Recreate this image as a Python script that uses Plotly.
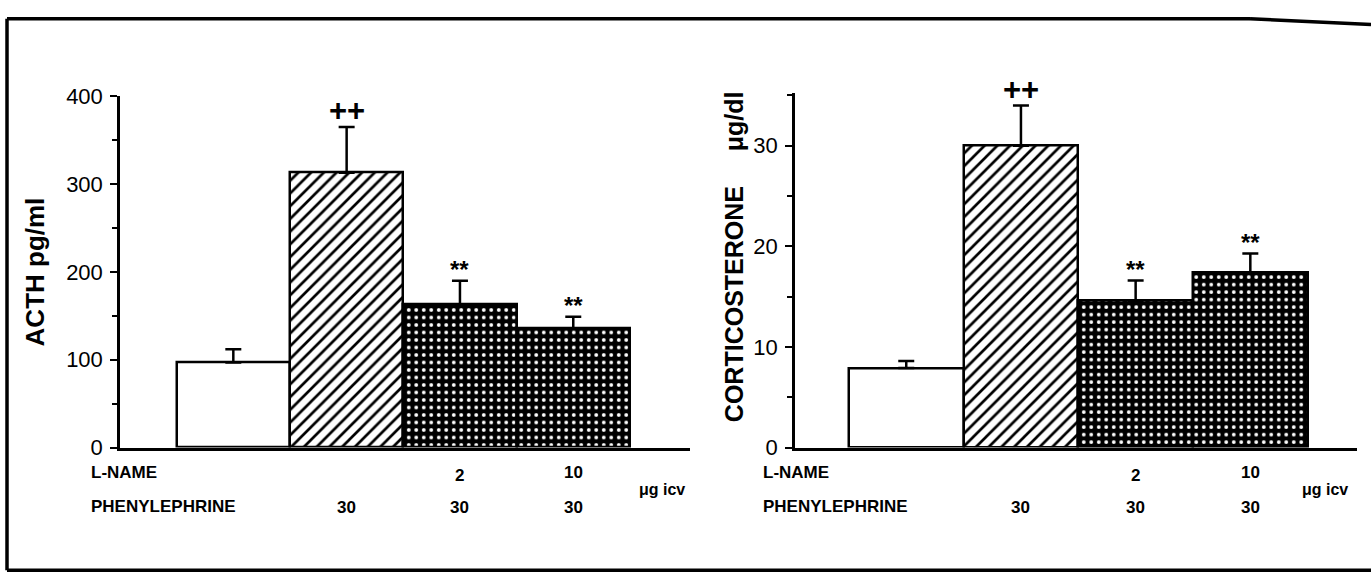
import plotly.graph_objects as go

# ---- data ----
groups = ["Control", "PE 30", "L-NAME 2 + PE 30", "L-NAME 10 + PE 30"]
acth_mean = [97, 313, 163, 136]
acth_err = [15, 52, 27, 13]
cort_mean = [7.9, 30.0, 14.6, 17.4]
cort_err = [0.7, 4.0, 2.0, 1.9]
acth_marks = ["", "++", "**", "**"]
cort_marks = ["", "++", "**", "**"]
lname_doses = ["", "", "2", "10"]
pe_doses = ["", "30", "30", "30"]
acth_ticks = [0, 100, 200, 300, 400]
cort_ticks = [0, 10, 20, 30]

W, H = 1371, 587
FONT = "Liberation Sans, Arial, Helvetica, sans-serif"
xpos = list(range(len(groups)))


def py(p):  # pixel y -> paper
    return 1 - p / H


def px(p):
    return p / W


shapes_pat = ["", "/", ".", "."]
bgc = ["white", "white", "black", "black"]
fgc = ["black", "black", "white", "white"]
sizes = [8, 9, 7.5, 7.5]
solid = [0.3, 0.3, 0.2, 0.2]

fig = go.Figure()


def add_panel(means, errs, xa, ya):
    fig.add_trace(go.Bar(
        x=xpos, y=means, width=1.0, xaxis=xa, yaxis=ya,
        marker=dict(color="white", line=dict(color="black", width=2.5),
                    pattern=dict(shape=shapes_pat, bgcolor=bgc, fgcolor=fgc,
                                 size=sizes, solidity=solid, fillmode="replace")),
        error_y=dict(type="data", symmetric=False, array=errs,
                     arrayminus=[0] * len(errs), color="black",
                     thickness=2.5, width=8),
        showlegend=False, hoverinfo="skip"))


add_panel(acth_mean, acth_err, "x", "y")
add_panel(cort_mean, cort_err, "x2", "y2")

ydom = [py(455), py(88)]
common_x = dict(showline=True, linecolor="black", linewidth=2.5, ticks="",
                showticklabels=False, showgrid=False, zeroline=False)
common_y = dict(showline=True, linecolor="black", linewidth=2.5, ticks="outside",
                ticklen=7, tickwidth=2, tickcolor="black", showgrid=False,
                zeroline=False, ticklabelstandoff=3,
                tickfont=dict(family=FONT, size=22, color="black"))

fig.update_layout(
    width=W, height=H, margin=dict(l=0, r=0, t=0, b=0),
    paper_bgcolor="white", plot_bgcolor="white", bargap=0,
    xaxis=dict(domain=[px(120), px(690)], range=[-1.0, 4.03], **common_x),
    xaxis2=dict(domain=[px(795), px(1357)], range=[-0.97, 3.93], anchor="y2", **common_x),
    yaxis=dict(domain=ydom, range=[0, 400], tickvals=acth_ticks,
               minor=dict(dtick=50, ticks="outside", ticklen=5, tickwidth=1.5, tickcolor="black"),
               **common_y),
    yaxis2=dict(domain=[py(455), py(85)], range=[0, 35.2], tickvals=cort_ticks, anchor="x2",
                minor=dict(dtick=5, ticks="outside", ticklen=5, tickwidth=1.5, tickcolor="black"),
                **common_y),
)

ann = []
# axis titles
ann.append(dict(x=px(35), y=py(272), xref="paper", yref="paper", text="<b>ACTH pg/ml</b>",
                textangle=-90, showarrow=False, xanchor="center", yanchor="middle",
                font=dict(family=FONT, size=26, color="black")))
ann.append(dict(x=px(734), y=py(255), xref="paper", yref="paper",
                text="<b>CORTICOSTERONE&nbsp;&nbsp;&nbsp;&nbsp;&nbsp;μg/dl</b>",
                textangle=-90, showarrow=False, xanchor="center", yanchor="middle",
                font=dict(family=FONT, size=25, color="black")))


# significance marks
def marks(means, errs, sig, xr, yr):
    for i, (m, e, s) in enumerate(zip(means, errs, sig)):
        if s:
            ann.append(dict(x=i, y=m + e, xref=xr, yref=yr, text="<b>" + s + "</b>", showarrow=False,
                            yanchor="middle", xanchor="center",
                            yshift=16 if s == "++" else 11,
                            font=dict(family=FONT, size=31 if s == "++" else 24, color="black")))


marks(acth_mean, acth_err, acth_marks, "x", "y")
marks(cort_mean, cort_err, cort_marks, "x2", "y2")

lab_font = dict(family=FONT, size=17, color="black")
for xr, lx, ux in (("x", 89, 662), ("x2", 761, 1325)):
    ann.append(dict(x=px(lx), y=py(481), xref="paper", yref="paper", text="<b>L-NAME</b>",
                    showarrow=False, xanchor="left", yanchor="middle", font=lab_font))
    ann.append(dict(x=px(lx), y=py(517), xref="paper", yref="paper", text="<b>PHENYLEPHRINE</b>",
                    showarrow=False, xanchor="left", yanchor="middle", font=lab_font))
    ann.append(dict(x=px(ux), y=py(499), xref="paper", yref="paper", text="<b>μg icv</b>",
                    showarrow=False, xanchor="center", yanchor="middle",
                    font=dict(family=FONT, size=16, color="black")))
    for i in xpos:
        if lname_doses[i]:
            ann.append(dict(x=i, y=py(484 if lname_doses[i] == "2" else 481), xref=xr, yref="paper",
                            text="<b>" + lname_doses[i] + "</b>", showarrow=False,
                            xanchor="center", yanchor="middle", font=lab_font))
        if pe_doses[i]:
            ann.append(dict(x=i, y=py(518), xref=xr, yref="paper", text="<b>" + pe_doses[i] + "</b>",
                            showarrow=False, xanchor="center", yanchor="middle", font=lab_font))

fig.update_layout(annotations=ann)

# outer frame (right side falls outside the picture)
frame = dict(color="black", width=3.5)
fig.add_shape(type="line", xref="paper", yref="paper", x0=px(7), x1=px(7), y0=py(583), y1=py(7), line=frame)
fig.add_shape(type="line", xref="paper", yref="paper", x0=px(7), x1=px(1250), y0=py(7), y1=py(7), line=frame)
fig.add_shape(type="line", xref="paper", yref="paper", x0=px(1250), x1=1, y0=py(7), y1=py(13), line=frame)
fig.add_shape(type="line", xref="paper", yref="paper", x0=px(7), x1=1, y0=py(583), y1=py(583), line=frame)

fig.write_html("out.html")
